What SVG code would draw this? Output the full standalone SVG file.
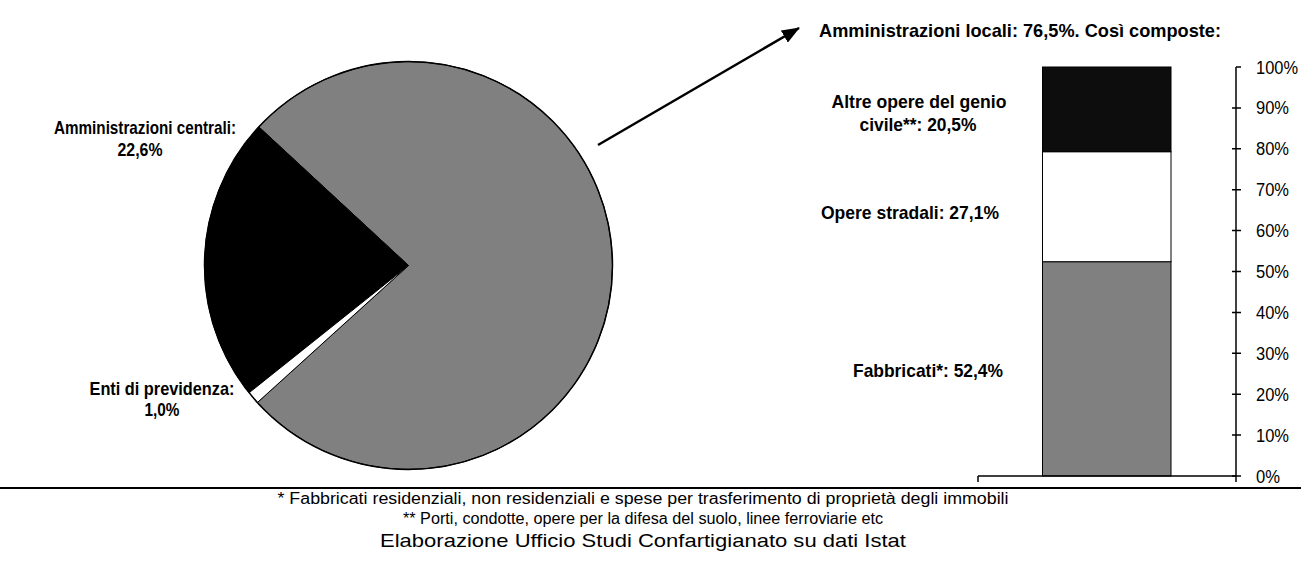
<svg xmlns="http://www.w3.org/2000/svg" width="1301" height="562" viewBox="0 0 1301 562">
<style>
.lbl{font-family:"Liberation Sans Narrow","Liberation Sans",Arial,sans-serif;font-weight:bold;font-size:19px;fill:#000;text-anchor:middle}
.tick{font-family:"Liberation Sans Narrow","Liberation Sans",Arial,sans-serif;font-size:18px;fill:#000}
.foot{font-family:"Liberation Sans Narrow","Liberation Sans",Arial,sans-serif;font-size:16px;fill:#000;text-anchor:middle}
.slice{stroke:#000;stroke-width:1;stroke-linejoin:round}
.ax{stroke:#000;stroke-width:1.5;fill:none}
</style>
<defs>
<marker id="ah" markerWidth="18" markerHeight="14" refX="17" refY="7" orient="auto" markerUnits="userSpaceOnUse" viewBox="0 0 18 14">
<path d="M0,0 L18,7 L0,14 z" fill="#000"/>
</marker>
</defs>
<rect width="1301" height="562" fill="#fff"/>

<g id="pie">
<path id="slice-locali" class="slice" fill="#808080" d="M408.5,265.5 L257.4,402.5 A204,204 0 1 0 258.8,126.9 Z"/>
<path id="slice-centrali" class="slice" fill="#000" d="M408.5,265.5 L258.8,126.9 A204,204 0 0 0 249.1,392.8 Z"/>
<path id="slice-previdenza" class="slice" fill="#fff" d="M408.5,265.5 L249.1,392.8 A204,204 0 0 0 257.4,402.5 Z"/>
<circle cx="408.5" cy="265.5" r="204" fill="none" stroke="#000" stroke-width="1.5"/>
</g>

<g id="connectors">
<line x1="598" y1="145" x2="799" y2="28" stroke="#000" stroke-width="2.5" marker-end="url(#ah)"/>
</g>

<g id="label-centrali">
<text class="lbl" x="145" y="134" textLength="182" lengthAdjust="spacingAndGlyphs">Amministrazioni centrali:</text>
<text class="lbl" x="140" y="156" textLength="45" lengthAdjust="spacingAndGlyphs">22,6%</text>
</g>
<g id="label-previdenza">
<text class="lbl" x="162" y="395" textLength="145" lengthAdjust="spacingAndGlyphs">Enti di previdenza:</text>
<text class="lbl" x="162" y="416" textLength="35" lengthAdjust="spacingAndGlyphs">1,0%</text>
</g>
<g id="title-locali">
<text class="lbl" x="1020" y="37" textLength="402" lengthAdjust="spacingAndGlyphs">Amministrazioni locali: 76,5%. Così composte:</text>
</g>

<g id="bar">
<rect id="seg-fabbricati" x="1042.5" y="261.7" width="128.5" height="214.3" fill="#808080" stroke="#000" stroke-width="1"/>
<rect id="seg-stradali" x="1042.5" y="151.7" width="128.5" height="110" fill="#fff" stroke="#000" stroke-width="1"/>
<rect id="seg-altre" x="1042.5" y="67" width="128.5" height="84.7" fill="#0d0d0d" stroke="#000" stroke-width="1"/>
</g>
<g id="label-altre">
<text class="lbl" x="919" y="108" textLength="175" lengthAdjust="spacingAndGlyphs">Altre opere del genio</text>
<text class="lbl" x="918" y="131" textLength="117" lengthAdjust="spacingAndGlyphs">civile**: 20,5%</text>
</g>
<g id="label-stradali">
<text class="lbl" x="910" y="219" textLength="178" lengthAdjust="spacingAndGlyphs">Opere stradali: 27,1%</text>
</g>
<g id="label-fabbricati">
<text class="lbl" x="928" y="377" textLength="150" lengthAdjust="spacingAndGlyphs">Fabbricati*: 52,4%</text>
</g>

<g id="axis">
<line class="ax" x1="1236" y1="67" x2="1236" y2="476"/>
<line class="ax" x1="978" y1="476" x2="1236" y2="476"/>
<line class="ax" x1="978" y1="476" x2="978" y2="482"/>
<line class="ax" x1="1236" y1="476" x2="1236" y2="482"/>
<path class="ax" d="M1236,67H1241 M1232,107.9H1241 M1232,148.8H1241 M1232,189.7H1241 M1232,230.6H1241 M1232,271.5H1241 M1232,312.4H1241 M1232,353.3H1241 M1232,394.2H1241 M1232,435.1H1241 M1232,476H1241"/>
<text class="tick" x="1256" y="73.5" textLength="42" lengthAdjust="spacingAndGlyphs">100%</text>
<text class="tick" x="1256" y="114.4" textLength="33" lengthAdjust="spacingAndGlyphs">90%</text>
<text class="tick" x="1256" y="155.3" textLength="33" lengthAdjust="spacingAndGlyphs">80%</text>
<text class="tick" x="1256" y="196.2" textLength="33" lengthAdjust="spacingAndGlyphs">70%</text>
<text class="tick" x="1256" y="237.1" textLength="33" lengthAdjust="spacingAndGlyphs">60%</text>
<text class="tick" x="1256" y="278" textLength="33" lengthAdjust="spacingAndGlyphs">50%</text>
<text class="tick" x="1256" y="318.9" textLength="33" lengthAdjust="spacingAndGlyphs">40%</text>
<text class="tick" x="1256" y="359.8" textLength="33" lengthAdjust="spacingAndGlyphs">30%</text>
<text class="tick" x="1256" y="400.7" textLength="33" lengthAdjust="spacingAndGlyphs">20%</text>
<text class="tick" x="1256" y="441.6" textLength="33" lengthAdjust="spacingAndGlyphs">10%</text>
<text class="tick" x="1256" y="482.5" textLength="24" lengthAdjust="spacingAndGlyphs">0%</text>
</g>

<g id="footer">
<line x1="0" y1="488" x2="1301" y2="488" stroke="#000" stroke-width="2"/>
<text class="foot" x="643" y="504" textLength="731" lengthAdjust="spacingAndGlyphs">* Fabbricati residenziali, non residenziali e spese per trasferimento di proprietà degli immobili</text>
<text class="foot" x="643" y="524" textLength="480" lengthAdjust="spacingAndGlyphs">** Porti, condotte, opere per la difesa del suolo, linee ferroviarie etc</text>
<text class="foot" x="643" y="547" style="font-size:19px" textLength="526" lengthAdjust="spacingAndGlyphs">Elaborazione Ufficio Studi Confartigianato su dati Istat</text>
</g>
</svg>
